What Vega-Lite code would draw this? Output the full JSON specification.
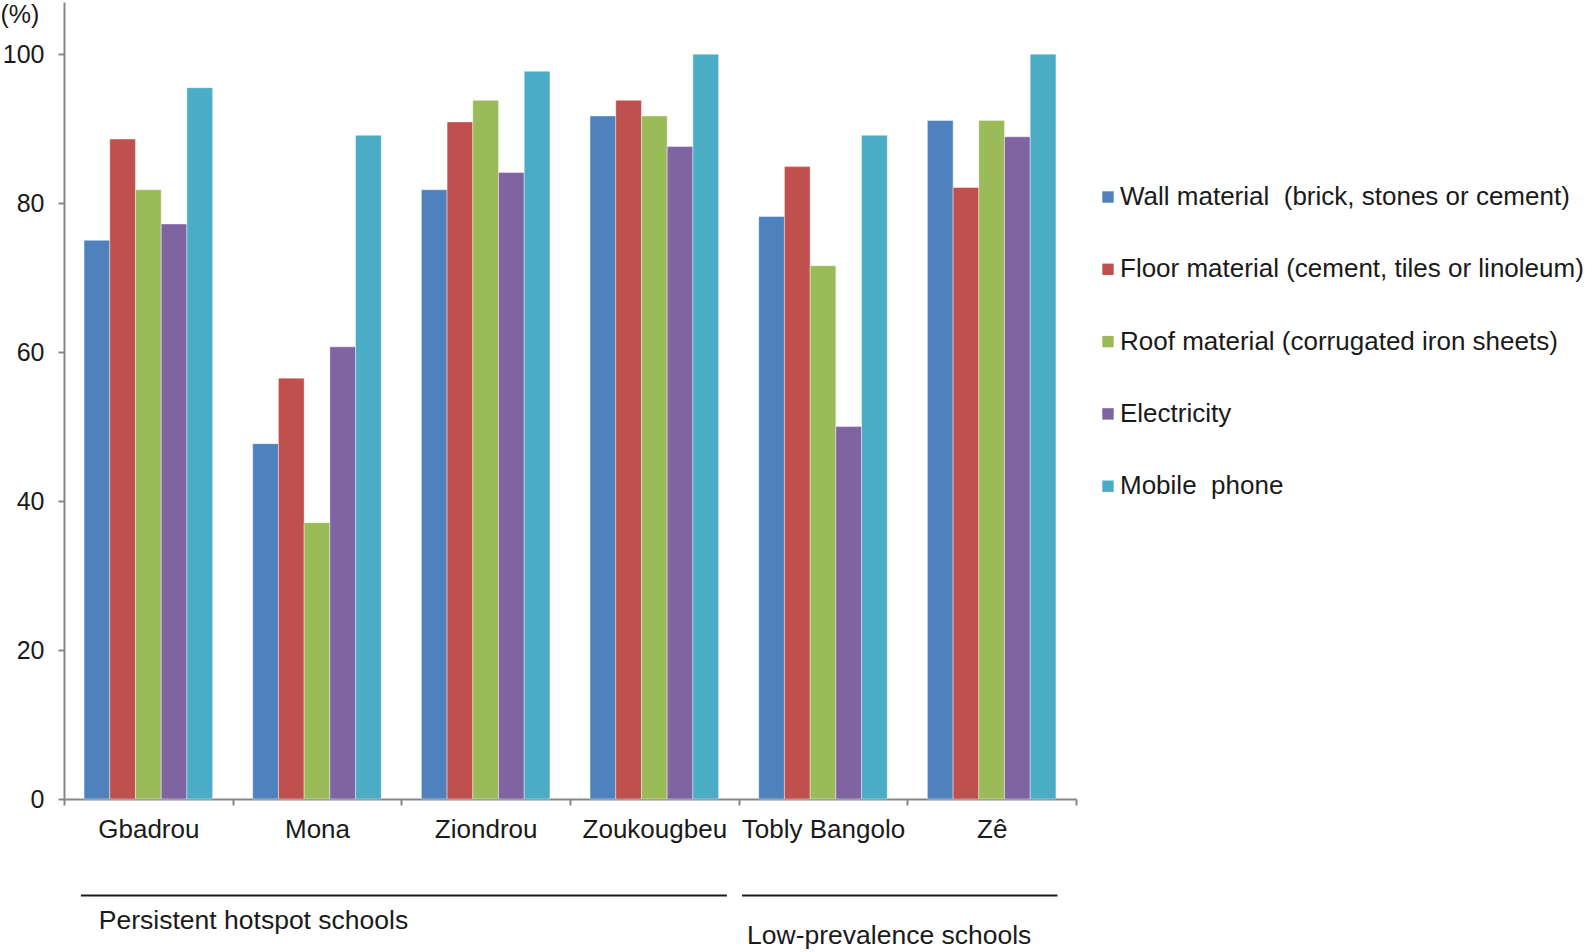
{
  "$schema": "https://vega.github.io/schema/vega-lite/v6.json",
  "background": "white",
  "padding": {"left": 0, "top": 2, "right": 0, "bottom": 0},
  "config": {"view": {"stroke": null}, "font": "Liberation Sans", "concat": {"spacing": 0}},
  "datasets": {
    "bars": [
      {"school": "Gbadrou", "indicator": "Wall material  (brick, stones or cement)", "pct": 75.0},
      {"school": "Gbadrou", "indicator": "Floor material (cement, tiles or linoleum)", "pct": 88.6},
      {"school": "Gbadrou", "indicator": "Roof material (corrugated iron sheets)", "pct": 81.8},
      {"school": "Gbadrou", "indicator": "Electricity", "pct": 77.2},
      {"school": "Gbadrou", "indicator": "Mobile  phone", "pct": 95.5},
      {"school": "Mona", "indicator": "Wall material  (brick, stones or cement)", "pct": 47.7},
      {"school": "Mona", "indicator": "Floor material (cement, tiles or linoleum)", "pct": 56.5},
      {"school": "Mona", "indicator": "Roof material (corrugated iron sheets)", "pct": 37.1},
      {"school": "Mona", "indicator": "Electricity", "pct": 60.7},
      {"school": "Mona", "indicator": "Mobile  phone", "pct": 89.1},
      {"school": "Ziondrou", "indicator": "Wall material  (brick, stones or cement)", "pct": 81.8},
      {"school": "Ziondrou", "indicator": "Floor material (cement, tiles or linoleum)", "pct": 90.9},
      {"school": "Ziondrou", "indicator": "Roof material (corrugated iron sheets)", "pct": 93.8},
      {"school": "Ziondrou", "indicator": "Electricity", "pct": 84.1},
      {"school": "Ziondrou", "indicator": "Mobile  phone", "pct": 97.7},
      {"school": "Zoukougbeu", "indicator": "Wall material  (brick, stones or cement)", "pct": 91.7},
      {"school": "Zoukougbeu", "indicator": "Floor material (cement, tiles or linoleum)", "pct": 93.8},
      {"school": "Zoukougbeu", "indicator": "Roof material (corrugated iron sheets)", "pct": 91.7},
      {"school": "Zoukougbeu", "indicator": "Electricity", "pct": 87.6},
      {"school": "Zoukougbeu", "indicator": "Mobile  phone", "pct": 100},
      {"school": "Tobly Bangolo", "indicator": "Wall material  (brick, stones or cement)", "pct": 78.2},
      {"school": "Tobly Bangolo", "indicator": "Floor material (cement, tiles or linoleum)", "pct": 84.9},
      {"school": "Tobly Bangolo", "indicator": "Roof material (corrugated iron sheets)", "pct": 71.6},
      {"school": "Tobly Bangolo", "indicator": "Electricity", "pct": 50.0},
      {"school": "Tobly Bangolo", "indicator": "Mobile  phone", "pct": 89.1},
      {"school": "Zê", "indicator": "Wall material  (brick, stones or cement)", "pct": 91.1},
      {"school": "Zê", "indicator": "Floor material (cement, tiles or linoleum)", "pct": 82.1},
      {"school": "Zê", "indicator": "Roof material (corrugated iron sheets)", "pct": 91.1},
      {"school": "Zê", "indicator": "Electricity", "pct": 88.9},
      {"school": "Zê", "indicator": "Mobile  phone", "pct": 100}
    ],
    "groups": [
      {"group": "Persistent hotspot schools", "start": 0.10, "end": 3.93},
      {"group": "Low-prevalence schools", "start": 4.02, "end": 5.89}
    ]
  },
  "vconcat": [
    {
      "width": 1012,
      "height": 797,
      "data": {"name": "bars"},
      "mark": {"type": "bar", "stroke": "white", "strokeWidth": 0.8, "strokeOpacity": 0.5},
      "encoding": {
        "x": {
          "field": "school", "type": "nominal",
          "sort": ["Gbadrou", "Mona", "Ziondrou", "Zoukougbeu", "Tobly Bangolo", "Zê"],
          "scale": {"paddingInner": 0, "paddingOuter": 0},
          "axis": {"title": null, "labelAngle": 0, "labelFontSize": 26, "labelColor": "#1a1a1a", "labelPadding": 11, "tickBand": "extent", "tickSize": 6, "domainColor": "#868686", "tickColor": "#868686", "domainWidth": 2, "tickWidth": 2}
        },
        "xOffset": {"field": "indicator", "type": "nominal", "scale": {"paddingOuter": 0.78, "paddingInner": 0}, "sort": ["Wall material  (brick, stones or cement)", "Floor material (cement, tiles or linoleum)", "Roof material (corrugated iron sheets)", "Electricity", "Mobile  phone"]},
        "y": {
          "field": "pct", "type": "quantitative",
          "scale": {"domain": [0, 107], "nice": false},
          "axis": {"values": [0, 20, 40, 60, 80, 100], "grid": false, "title": "(%)", "titleAngle": 0, "titleAlign": "left", "titleX": -64, "titleY": 12, "titleBaseline": "middle", "titleFontWeight": "normal", "titleFontSize": 25, "titleColor": "#1a1a1a", "labelFontSize": 25, "labelColor": "#1a1a1a", "labelPadding": 14, "tickSize": 6, "domainColor": "#868686", "tickColor": "#868686", "domainWidth": 2, "tickWidth": 2}
        },
        "color": {
          "field": "indicator", "type": "nominal",
          "sort": ["Wall material  (brick, stones or cement)", "Floor material (cement, tiles or linoleum)", "Roof material (corrugated iron sheets)", "Electricity", "Mobile  phone"],
          "scale": {"domain": ["Wall material  (brick, stones or cement)", "Floor material (cement, tiles or linoleum)", "Roof material (corrugated iron sheets)", "Electricity", "Mobile  phone"], "range": ["#4F81BD", "#C0504D", "#9BBB59", "#8064A2", "#4BACC6"]},
          "legend": {"title": null, "orient": "none", "legendX": 1031, "legendY": 182, "symbolType": "square", "symbolSize": 130, "symbolStrokeWidth": 0, "labelFontSize": 26, "labelColor": "#1a1a1a", "rowPadding": 46.3, "labelOffset": -1, "labelLimit": 600, "labelExpr": "replace(datum.label, '  ', ' \u00a0')"}
        }
      }
    },
    {
      "width": 1012,
      "height": 107,
      "data": {"name": "groups"},
      "layer": [
        {
          "mark": {"type": "rule", "stroke": "#1a1a1a", "strokeWidth": 2},
          "encoding": {
            "x": {"field": "start", "type": "quantitative", "scale": {"domain": [0, 6], "nice": false, "zero": false}, "axis": null},
            "x2": {"field": "end"}
          }
        },
        {
          "transform": [{"filter": "datum.group === 'Persistent hotspot schools'"}],
          "mark": {"type": "text", "align": "left", "baseline": "middle", "fontSize": 26.5, "color": "#1a1a1a", "dx": 18, "dy": 25},
          "encoding": {
            "x": {"field": "start", "type": "quantitative"},
            "text": {"field": "group"}
          }
        },
        {
          "transform": [{"filter": "datum.group === 'Low-prevalence schools'"}],
          "mark": {"type": "text", "align": "left", "baseline": "middle", "fontSize": 26.5, "color": "#1a1a1a", "dx": 5, "dy": 40},
          "encoding": {
            "x": {"field": "start", "type": "quantitative"},
            "text": {"field": "group"}
          }
        }
      ]
    }
  ]
}
